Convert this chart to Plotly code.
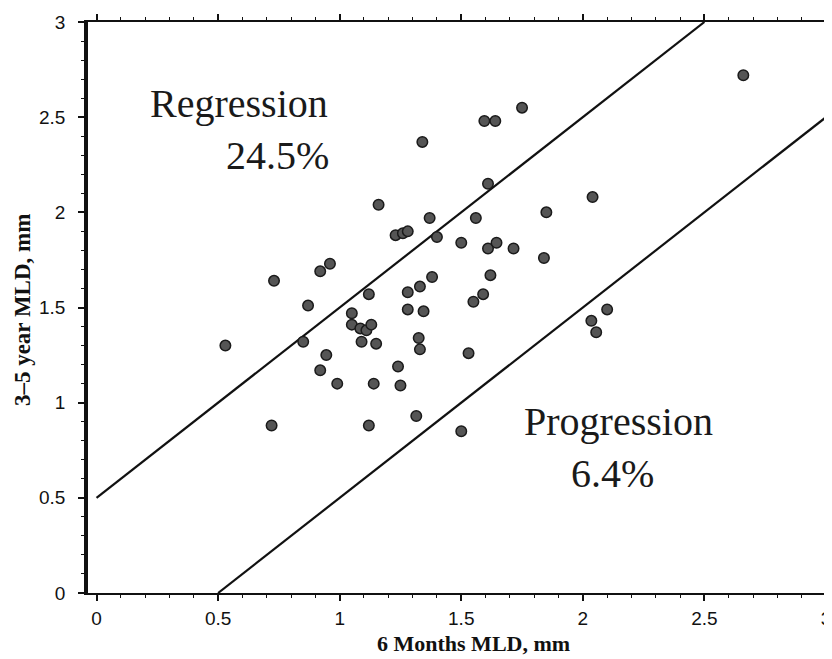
import plotly.graph_objects as go

# 6-month MLD (x) vs 3-5 year MLD (y), mm
mld_6m = [0.53, 0.72, 0.73, 0.85, 0.87, 0.92, 0.96, 0.92, 0.945, 0.99,
          1.05, 1.05, 1.085, 1.11, 1.13, 1.09, 1.15, 1.12, 1.12, 1.14,
          1.16, 1.23, 1.26, 1.28, 1.24, 1.25, 1.28, 1.28, 1.315, 1.325,
          1.33, 1.33, 1.345, 1.34, 1.37, 1.38, 1.40, 1.50, 1.50, 1.53,
          1.55, 1.56, 1.59, 1.595, 1.64, 1.61, 1.61, 1.645, 1.62, 1.715,
          1.75, 1.84, 1.85, 2.04, 2.035, 2.055, 2.10, 2.66]
mld_3_5y = [1.30, 0.88, 1.64, 1.32, 1.51, 1.69, 1.73, 1.17, 1.25, 1.10,
            1.47, 1.41, 1.39, 1.38, 1.41, 1.32, 1.31, 1.57, 0.88, 1.10,
            2.04, 1.88, 1.89, 1.90, 1.19, 1.09, 1.58, 1.49, 0.93, 1.34,
            1.28, 1.61, 1.48, 2.37, 1.97, 1.66, 1.87, 1.84, 0.85, 1.26,
            1.53, 1.97, 1.57, 2.48, 2.48, 2.15, 1.81, 1.84, 1.67, 1.81,
            2.55, 1.76, 2.00, 2.08, 1.43, 1.37, 1.49, 2.72]

# boundary lines (y = x + 0.5 and y = x - 0.5)
upper_x = [0.0, 2.5]
upper_y = [0.5, 3.0]
lower_x = [0.5, 3.0]
lower_y = [0.0, 2.5]

tick_vals = [0, 0.5, 1, 1.5, 2, 2.5, 3]
tick_text = ["0", "0.5", "1", "1.5", "2", "2.5", "3"]

fig = go.Figure()
fig.add_trace(go.Scatter(x=upper_x, y=upper_y, mode="lines",
                         line=dict(color="#111111", width=2.2), showlegend=False,
                         hoverinfo="skip"))
fig.add_trace(go.Scatter(x=lower_x, y=lower_y, mode="lines",
                         line=dict(color="#111111", width=2.2), showlegend=False,
                         hoverinfo="skip"))
fig.add_trace(go.Scatter(x=mld_6m, y=mld_3_5y, mode="markers",
                         marker=dict(size=10.5, color="#555555",
                                     line=dict(color="#1a1a1a", width=1.5)),
                         showlegend=False))

serif = "Liberation Serif, Times New Roman, serif"
sans = "Liberation Sans, Arial, sans-serif"

common_axis = dict(
    showgrid=False, zeroline=False, showline=True, linecolor="#111111",
    mirror="ticks", ticks="outside", ticklen=6, tickwidth=1.5, tickcolor="#111111",
    tickvals=tick_vals, ticktext=tick_text, automargin=False,
    tickfont=dict(family=sans, size=19, color="#111111"),
    minor=dict(dtick=0.1, ticks="outside", ticklen=3, tickwidth=1, tickcolor="#111111"),
)

fig.update_layout(
    width=824, height=651,
    margin=dict(l=80, r=6, t=14, b=66),
    paper_bgcolor="white", plot_bgcolor="white",
    xaxis=dict(range=[-0.035, 3.0], linewidth=2.2, ticklabelstandoff=1, **common_axis),
    yaxis=dict(range=[0, 3.0], linewidth=3.5, ticklabelstandoff=9, **common_axis),
    annotations=[
        dict(text="Regression", x=0.587, y=2.57, xref="x", yref="y", showarrow=False,
             font=dict(family=serif, size=40, color="#1a1a1a"), xanchor="center", yanchor="middle"),
        dict(text="24.5%", x=0.746, y=2.30, xref="x", yref="y", showarrow=False,
             font=dict(family=serif, size=40, color="#1a1a1a"), xanchor="center", yanchor="middle"),
        dict(text="Progression", x=2.148, y=0.90, xref="x", yref="y", showarrow=False,
             font=dict(family=serif, size=40, color="#1a1a1a"), xanchor="center", yanchor="middle"),
        dict(text="6.4%", x=2.12, y=0.63, xref="x", yref="y", showarrow=False,
             font=dict(family=serif, size=40, color="#1a1a1a"), xanchor="center", yanchor="middle"),
        dict(text="<b>6 Months MLD, mm</b>", x=0.522, y=-0.088, xref="paper", yref="paper",
             showarrow=False, font=dict(family=serif, size=22, color="#111111"),
             xanchor="center", yanchor="middle"),
        dict(text="<b>3–5 year MLD, mm</b>", x=-0.089, y=0.496, xref="paper", yref="paper",
             showarrow=False, textangle=-90, font=dict(family=serif, size=23, color="#111111"),
             xanchor="center", yanchor="middle"),
    ],
)

fig.write_html("out.html")
